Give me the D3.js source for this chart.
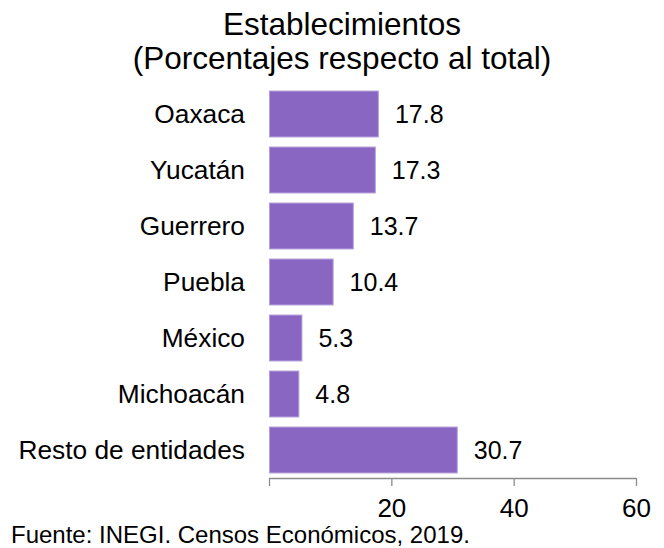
<!DOCTYPE html>
<html>
<head>
<meta charset="utf-8">
<script src="https://cdn.jsdelivr.net/npm/d3@7"></script>
<style>
  html, body { margin: 0; padding: 0; background: #ffffff; }
  svg { display: block; font-family: "Liberation Sans", Arial, sans-serif; }
</style>
</head>
<body>
<svg id="chart" width="664" height="548"></svg>
<script>
const categories = ["Oaxaca", "Yucatán", "Guerrero", "Puebla", "México", "Michoacán", "Resto de entidades"];
const values = [17.8, 17.3, 13.7, 10.4, 5.3, 4.8, 30.7];
const tickValues = [0, 20, 40, 60];
const tickLabels = ["", "20", "40", "60"];
const titleLines = ["Establecimientos", "(Porcentajes respecto al total)"];
const sourceText = "Fuente: INEGI. Censos Económicos, 2019.";

const svg = d3.select("#chart");

const x = d3.scaleLinear().domain([0, 60]).range([269, 636]);
const y = d3.scaleBand().domain(categories).range([86, 478]).paddingInner(0.18).paddingOuter(0.09);

// Title
svg.append("text")
  .attr("x", 342).attr("y", 35)
  .attr("text-anchor", "middle")
  .attr("font-size", 31.5)
  .attr("fill", "#000")
  .text(titleLines[0]);
svg.append("text")
  .attr("x", 342).attr("y", 69)
  .attr("text-anchor", "middle")
  .attr("font-size", 31.5)
  .attr("fill", "#000")
  .text(titleLines[1]);

// Bars
svg.selectAll("rect.bar")
  .data(categories)
  .join("rect")
  .attr("class", "bar")
  .attr("x", x(0) + 0.5)
  .attr("y", d => y(d))
  .attr("width", (d, i) => x(values[i]) - x(0))
  .attr("height", y.bandwidth())
  .attr("fill", "#8866c2")
  .attr("stroke", "#b4a0dc")
  .attr("stroke-width", 1);

// Value labels
svg.selectAll("text.val")
  .data(categories)
  .join("text")
  .attr("class", "val")
  .attr("x", (d, i) => x(values[i]) + 17)
  .attr("y", d => y(d) + y.bandwidth() / 2)
  .attr("dy", "0.36em")
  .attr("font-size", 25)
  .attr("fill", "#000")
  .text((d, i) => values[i].toFixed(1));

// Category labels
svg.selectAll("text.cat")
  .data(categories)
  .join("text")
  .attr("class", "cat")
  .attr("x", 245)
  .attr("y", d => y(d) + y.bandwidth() / 2)
  .attr("dy", "0.36em")
  .attr("text-anchor", "end")
  .attr("font-size", 26.3)
  .attr("fill", "#000")
  .text(d => d);

// X axis
const axis = d3.axisBottom(x)
  .tickValues(tickValues)
  .tickSize(8)
  .tickFormat((d, i) => tickLabels[i]);
const gx = svg.append("g")
  .attr("transform", "translate(0,478)")
  .call(axis);
gx.select(".domain").attr("stroke", "#8c8c8c").attr("stroke-width", 1.3).attr("d", `M${x(0)},0.5H${x(60)}`);
gx.selectAll(".tick line").attr("stroke", "#8c8c8c").attr("stroke-width", 1.3);
gx.selectAll(".tick text")
  .attr("font-size", 26)
  .attr("font-family", "Liberation Sans, Arial, sans-serif")
  .attr("fill", "#000")
  .attr("dy", null)
  .attr("y", 39);

// Source
svg.append("text")
  .attr("x", 11).attr("y", 543)
  .attr("font-size", 24)
  .attr("fill", "#000")
  .text(sourceText);
</script>
</body>
</html>
